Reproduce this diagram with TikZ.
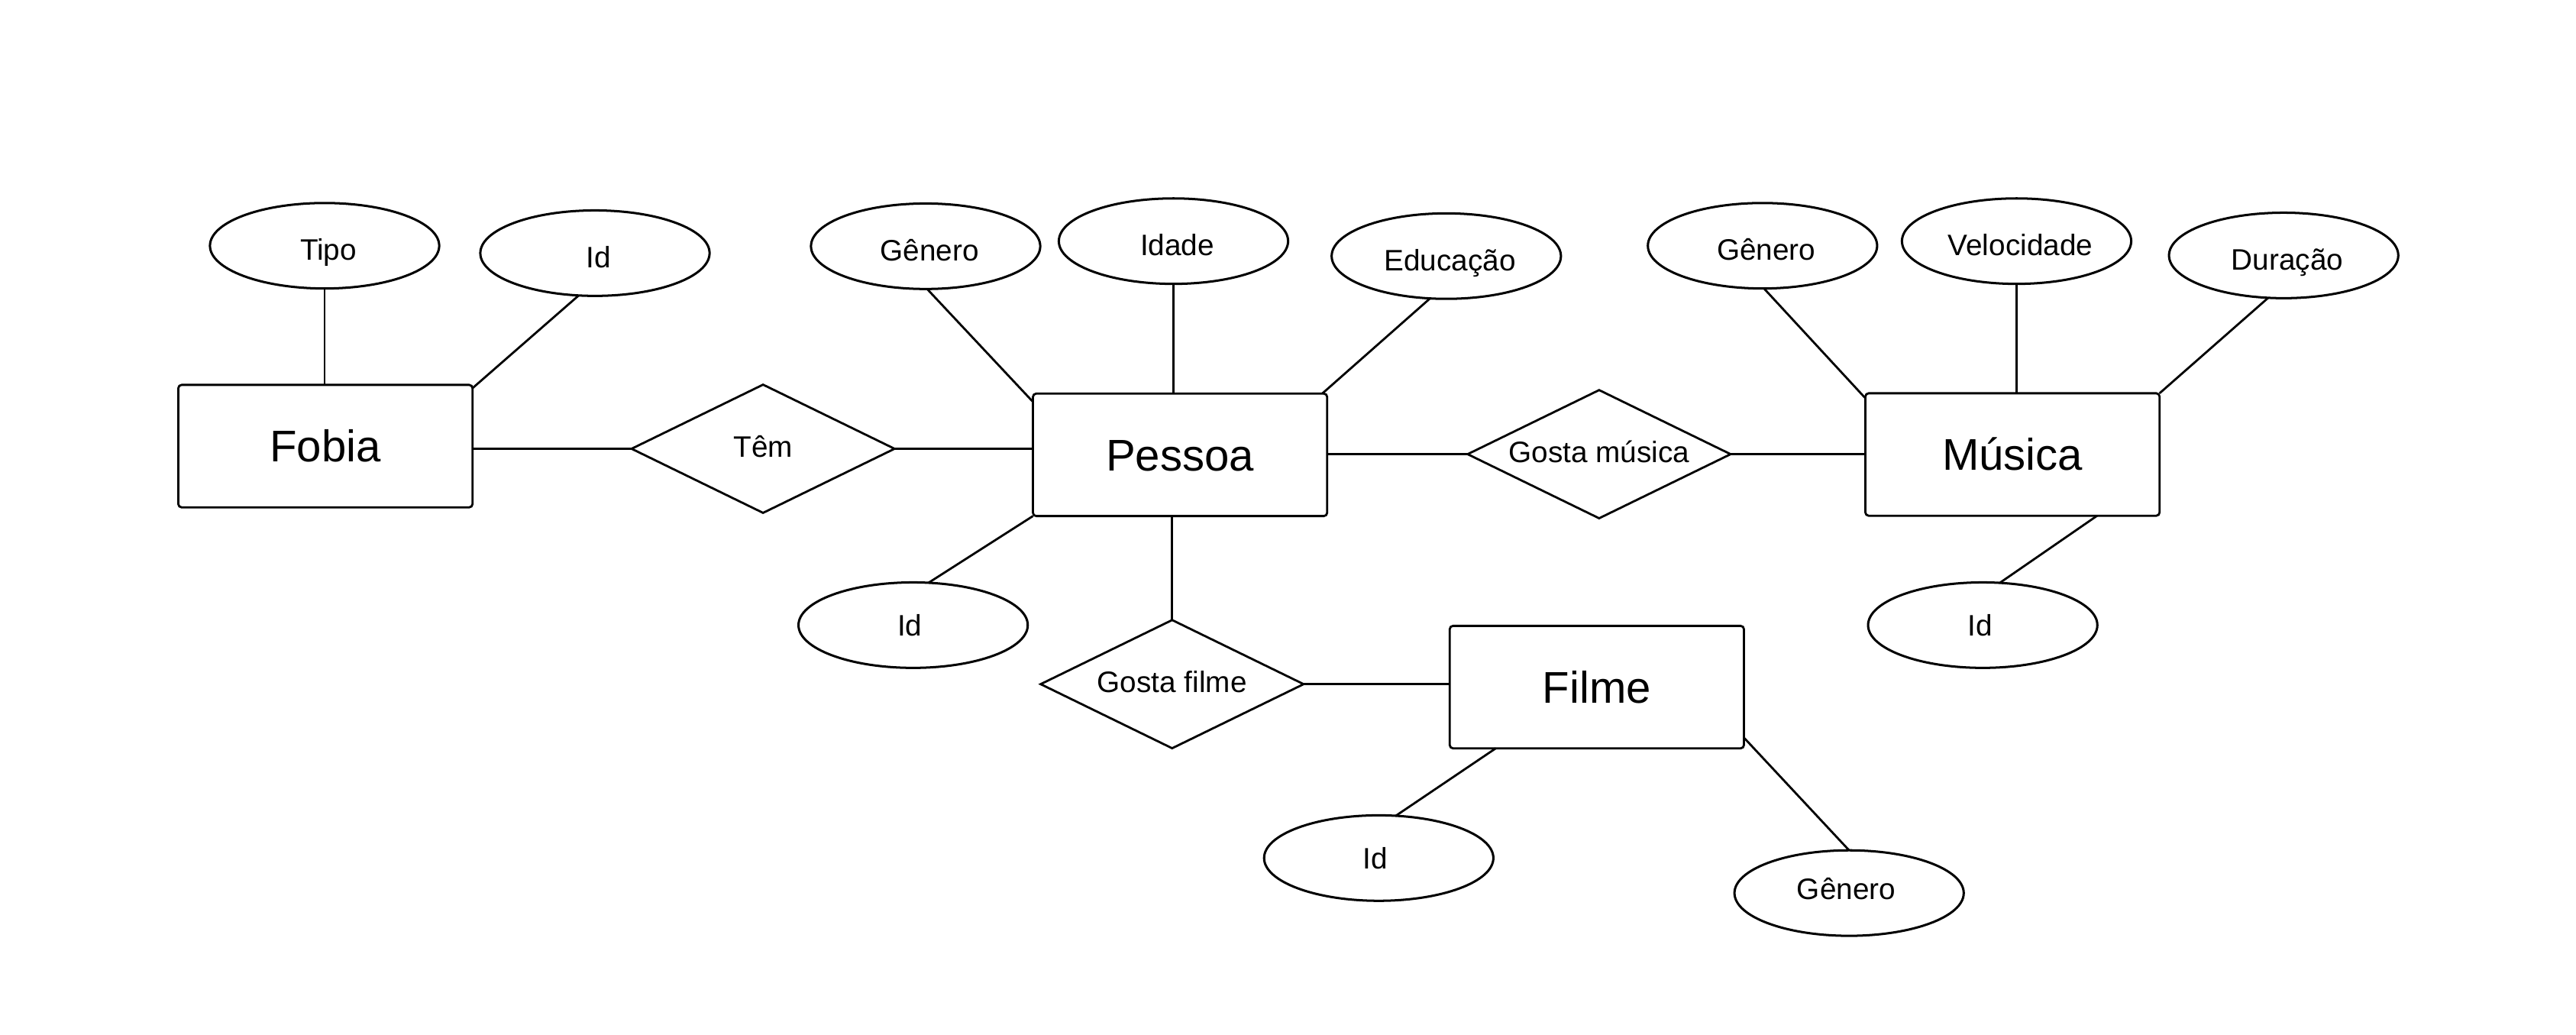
\documentclass[tikz,border=0pt]{standalone}
\usepackage{fontspec}
\setmainfont{Liberation Sans}
\usetikzlibrary{shapes.geometric}
\newcommand\elltext[3]{\hspace*{#1}\raisebox{#2}{#3}}
\newcommand\toptext[1]{\elltext{4.6pt}{-2.5pt}{#1}}
\newcommand\diatext[1]{\raisebox{1.5pt}{#1}}
\begin{document}
\begin{tikzpicture}[x=1pt,y=-1pt,
  every node/.style={inner sep=0pt, outer sep=0pt},
  entity/.style={draw, line width=1.3pt, rounded corners=2pt, minimum width=179pt, minimum height=74.5pt,
    font=\fontsize{27}{32}\selectfont, text height=19.3pt, text depth=0pt},
  attr/.style={draw, ellipse, line width=1.4pt, minimum width=139.5pt, minimum height=52pt,
    font=\fontsize{18}{22}\selectfont, text height=12.9pt, text depth=0pt},
  rel/.style={draw, diamond, aspect=2, line width=1.3pt, minimum width=160pt, minimum height=78pt,
    font=\fontsize{18}{22}\selectfont, text height=12.9pt, text depth=0pt},
  link/.style={line width=1.3pt}]
\useasboundingbox[fill=white] (0,0) rectangle (1567.4,629.6);

% entities
\node[entity] (fobia)  at (198,271.4)   {Fobia};
\node[entity] (pessoa) at (718,276.7)   {Pessoa};
\node[entity] (musica) at (1224.5,276.5){Música};
\node[entity] (filme)  at (971.6,418)   {Filme};

% relationships
\node[rel] (tem) at (464.3,273)  {\diatext{Têm}};
\node[rel] (gm)  at (973,276.3)  {\diatext{Gosta música}};
\node[rel] (gf)  at (713.2,416.2){\diatext{Gosta filme}};

% attributes
\node[attr] (tipo)  at (197.5,149.5) {\toptext{Tipo}};
\node[attr] (idf)   at (362,154)     {\toptext{Id}};
\node[attr] (genp)  at (563.2,149.8) {\toptext{Gênero}};
\node[attr] (idade) at (714,146.7)   {\toptext{Idade}};
\node[attr] (educ)  at (880,155.8)   {\toptext{Educação}};
\node[attr] (idp)   at (555.6,380.3) {\elltext{-4pt}{0pt}{Id}};
\node[attr] (genm)  at (1072.4,149.5){\toptext{Gênero}};
\node[attr] (vel)   at (1227,146.7)  {\toptext{Velocidade}};
\node[attr] (dur)   at (1389.5,155.4){\toptext{Duração}};
\node[attr] (idm)   at (1206.4,380.3){\elltext{-3pt}{0pt}{Id}};
\node[attr] (idfi)  at (838.9,522)   {\elltext{-4pt}{0pt}{Id}};
\node[attr] (genf)  at (1125.1,543.3){\elltext{-3.4pt}{2.7pt}{Gênero}};

% connectors
\draw[link] (tipo.south) -- (tipo.south |- fobia.north);
\draw[link] (idf.249) -- ([yshift=-2pt]fobia.north east);
\draw[link] (fobia.east |- tem.west) -- (tem.west);
\draw[link] (tem.east) -- (tem.east -| pessoa.west);

\draw[link] (genp.272) -- ([yshift=-5pt]pessoa.north west);
\draw[link] (idade.south) -- (idade.south |- pessoa.north);
\draw[link] (educ.249) -- ([xshift=-3pt]pessoa.north east);
\draw[link] (idp.70) -- (pessoa.south west);
\draw[link] (gm.west) -- (gm.west -| pessoa.east);
\draw[link] (gm.east) -- (gm.east -| musica.west);
\draw[link] (gf.north) -- (gf.north |- pessoa.south);
\draw[link] (gf.east) -- (gf.east -| filme.west);

\draw[link] (genm.272) -- ([yshift=-3pt]musica.north west);
\draw[link] (vel.south) -- (vel.south |- musica.north);
\draw[link] (dur.250) -- (musica.north east);
\draw[link] (idm.68) -- ([xshift=-38pt]musica.south east);

\draw[link] (idfi.68) -- ([xshift=28pt]filme.south west);
\draw[link] (genf.north) -- ([yshift=6.5pt]filme.south east);
\end{tikzpicture}
\end{document}
